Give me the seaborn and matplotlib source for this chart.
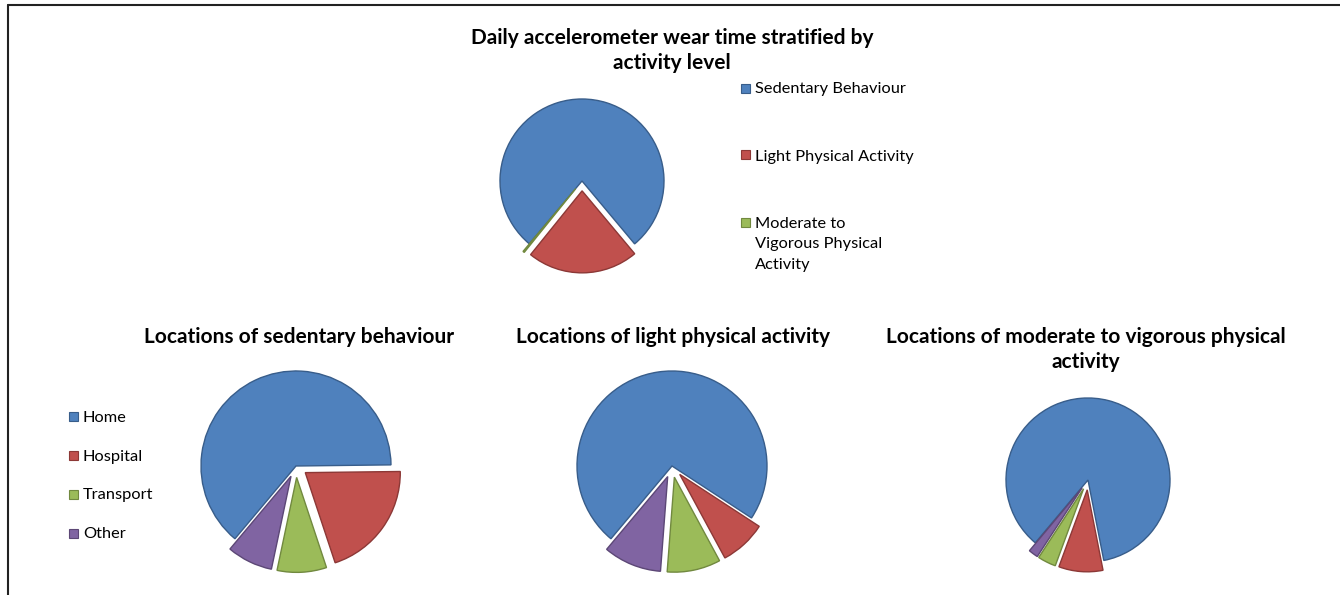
import numpy as np
import matplotlib
matplotlib.use("Agg")
import matplotlib.pyplot as plt
from matplotlib.lines import Line2D
from matplotlib.patches import Rectangle
import seaborn as sns

# data (percent of wear time)
activity_labels = ["Sedentary Behaviour", "Light Physical Activity", "Moderate to\nVigorous Physical\nActivity"]
activity_share = [77.8, 21.9, 0.3]

location_labels = ["Home", "Hospital", "Transport", "Other"]
sedentary_share = [63.7, 20.1, 8.4, 7.8]
light_share = [73.1, 7.9, 9.1, 9.9]
mvpa_share = [85.8, 8.7, 3.6, 1.9]

face_colors = ["#4F81BD", "#C0504D", "#9BBB59", "#8064A2"]
edge_colors = ["#385D8A", "#8C3836", "#71893F", "#5C4776"]

sns.set_theme(style="white")
plt.rcParams['font.family'] = ['Lato', 'DejaVu Sans']

W, H = 1340, 595
fig = plt.figure(figsize=(W / 100, H / 100), dpi=100)
fig.patch.set_facecolor("white")


def pie_at(values, cx, cy, r):
    # place an axes so that radius 1 in data units = r pixels, centered at (cx, cy)
    m = 1.45
    ax = fig.add_axes([(cx - m * r) / W, (H - cy - m * r) / H, 2 * m * r / W, 2 * m * r / H])
    n = len(values)
    explode = [0] + [0.12] * (n - 1)
    wedges, _ = ax.pie(values, colors=face_colors[:n], startangle=230, counterclock=False,
                       explode=explode, radius=1,
                       wedgeprops={'linewidth': 1.0})
    for w, ec in zip(wedges, edge_colors):
        w.set_edgecolor(ec)
    ax.set_xlim(-m, m)
    ax.set_ylim(-m, m)
    ax.set_aspect('equal')
    ax.axis('off')
    return ax


pie_at(activity_share, 582, 181, 82)
pie_at(sedentary_share, 296, 466, 95)
pie_at(light_share, 672, 466, 95)
pie_at(mvpa_share, 1088, 480, 82)

title_kw = dict(fontsize=15, fontweight='bold', ha='center', va='top', color='black', linespacing=1.32)
fig.text(672 / W, 1 - 28 / H, "Daily accelerometer wear time stratified by\nactivity level", **title_kw)
fig.text(299 / W, 1 - 327 / H, "Locations of sedentary behaviour", **title_kw)
fig.text(673 / W, 1 - 327 / H, "Locations of light physical activity", **title_kw)
fig.text(1086 / W, 1 - 327 / H, "Locations of moderate to vigorous physical\nactivity", **title_kw)


def legend_at(labels, x, ys):
    for lab, y, fc, ec in zip(labels, ys, face_colors, edge_colors):
        fig.add_artist(Rectangle(((x - 14) / W, 1 - (y + 4.5) / H), 9 / W, 9 / H,
                                 facecolor=fc, edgecolor=ec, linewidth=0.8, transform=fig.transFigure))
        fig.text(x / W, 1 - (y - 5.5) / H, lab, fontsize=11.8, ha='left', va='top',
                 color='black', linespacing=1.6)


legend_at(activity_labels, 755, [88, 155, 222])
legend_at(location_labels, 83, [416, 455, 494, 533])

# frame remnants of the original figure border
fig.add_artist(Line2D([8 / W, 1], [1 - 5 / H, 1 - 5 / H], color='#222222', linewidth=1.5, transform=fig.transFigure))
fig.add_artist(Line2D([8 / W, 8 / W], [0, 1 - 5 / H], color='#222222', linewidth=1.5, transform=fig.transFigure))

fig.savefig("out.png", dpi=100)
